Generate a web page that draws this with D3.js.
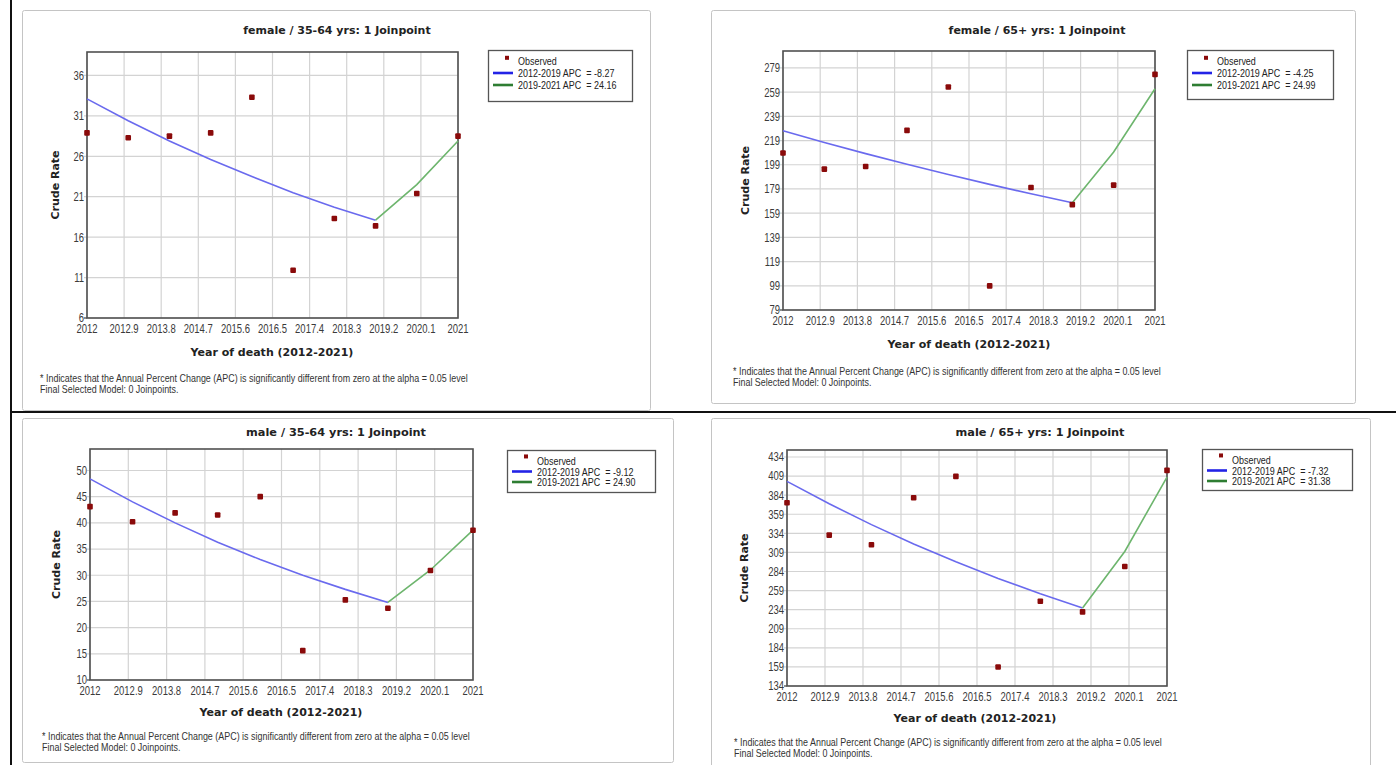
<!DOCTYPE html>
<html>
<head>
<meta charset="utf-8">
<script src="https://cdn.jsdelivr.net/npm/d3@7"></script>
<style>
  body { margin: 0; background: #fff; }
  svg { display: block; }
  .tick-label { font-family: "Liberation Sans", Arial, sans-serif; fill: #3a3a3a; }
  .bold { font-family: "DejaVu Sans", Verdana, sans-serif; font-weight: bold; fill: #222; }
  .foot { font-family: "Liberation Sans", Arial, sans-serif; fill: #333; }
  .legend-text { font-family: "Liberation Sans", Arial, sans-serif; fill: #222; white-space: pre; }
</style>
</head>
<body>
<svg width="1396" height="765"></svg>
<script>
// data
var years = [2012, 2013, 2014, 2015, 2016, 2017, 2018, 2019, 2020, 2021];
var xTickVals = [2012, 2012.9, 2013.8, 2014.7, 2015.6, 2016.5, 2017.4, 2018.3, 2019.2, 2020.1, 2021];
var segment1 = [2012, 2013, 2014, 2015, 2016, 2017, 2018, 2019];
var segment2 = [2019, 2020, 2021];

var titles = ["female / 35-64 yrs: 1 Joinpoint", "female / 65+ yrs: 1 Joinpoint",
              "male / 35-64 yrs: 1 Joinpoint", "male / 65+ yrs: 1 Joinpoint"];

var observedF3564 = [28.9, 28.3, 28.5, 28.9, 33.3, 11.9, 18.3, 17.4, 21.4, 28.5];
var fittedF3564   = [33.1, 30.4, 27.9, 25.6, 23.5, 21.5, 19.7, 18.1, 22.5, 27.9];
var observedF65   = [208.7, 195.4, 197.6, 227.4, 263.3, 98.9, 180.2, 166.1, 182.2, 273.7];
var fittedF65     = [227.1, 217.4, 208.2, 199.4, 190.9, 182.8, 175.0, 167.6, 209.5, 261.8];
var observedM3564 = [43.1, 40.2, 41.9, 41.5, 45.0, 15.6, 25.3, 23.7, 30.9, 38.6];
var fittedM3564   = [48.4, 44.0, 40.0, 36.3, 33.0, 30.0, 27.3, 24.8, 31.0, 38.6];
var observedM65   = [374.0, 331.7, 319.0, 380.6, 408.7, 158.9, 245.1, 231.1, 290.5, 416.5];
var fittedM65     = [402.1, 372.7, 345.4, 320.1, 296.7, 275.0, 254.8, 236.2, 310.3, 407.7];

var yTicksF3564 = [6, 11, 16, 21, 26, 31, 36];
var yTicksF65   = [79, 99, 119, 139, 159, 179, 199, 219, 239, 259, 279];
var yTicksM3564 = [10, 15, 20, 25, 30, 35, 40, 45, 50];
var yTicksM65   = [134, 159, 184, 209, 234, 259, 284, 309, 334, 359, 384, 409, 434];

var yMaxF3564 = 38.9, yMaxF65 = 293, yMaxM3564 = 54.1, yMaxM65 = 443.2;

var legendApc = [["2012-2019 APC  = -8.27", "2019-2021 APC  = 24.16"],
                 ["2012-2019 APC  = -4.25", "2019-2021 APC  = 24.99"],
                 ["2012-2019 APC  = -9.12", "2019-2021 APC  = 24.90"],
                 ["2012-2019 APC  = -7.32", "2019-2021 APC  = 31.38"]];

var footnotes = ["* Indicates that the Annual Percent Change (APC) is significantly different from zero at the alpha = 0.05 level",
                 "Final Selected Model: 0 Joinpoints."];

var svg = d3.select("svg");

// page borders (document table lines)
svg.append("line").attr("x1", 11).attr("x2", 11).attr("y1", 0).attr("y2", 765)
    .attr("stroke", "#111").attr("stroke-width", 2);
svg.append("line").attr("x1", 11).attr("x2", 1396).attr("y1", 412).attr("y2", 412)
    .attr("stroke", "#111").attr("stroke-width", 2);

var panels = [
  { title: titles[0], obs: observedF3564, fit: fittedF3564, yTicks: yTicksF3564, yMax: yMaxF3564, apc: legendApc[0],
    frame: [22, 10, 628, 400], plot: {l: 87, t: 52, r: 458, b: 318}, titlePos: [337, 30], tfs: 11,
    legend: {x: 488, y: 50, w: 144, h: 51, row: 12}, yTitleX: 55, xTitle: [272, 352], foot: [40, 378] },
  { title: titles[1], obs: observedF65, fit: fittedF65, yTicks: yTicksF65, yMax: yMaxF65, apc: legendApc[1],
    frame: [711, 10, 644, 393], plot: {l: 783, t: 51, r: 1155, b: 310}, titlePos: [1037, 30], tfs: 11,
    legend: {x: 1187, y: 50, w: 146, h: 49, row: 12}, yTitleX: 745, xTitle: [969, 344], foot: [733, 371] },
  { title: titles[2], obs: observedM3564, fit: fittedM3564, yTicks: yTicksM3564, yMax: yMaxM3564, apc: legendApc[2],
    frame: [22, 418, 651, 344], plot: {l: 90, t: 449, r: 473, b: 680}, titlePos: [336, 432], tfs: 11.3,
    legend: {x: 507, y: 450, w: 148, h: 42, row: 10.5}, yTitleX: 56, xTitle: [281, 712], foot: [42, 736] },
  { title: titles[3], obs: observedM65, fit: fittedM65, yTicks: yTicksM65, yMax: yMaxM65, apc: legendApc[3],
    frame: [711, 418, 659, 360], plot: {l: 787, t: 450, r: 1167, b: 686}, titlePos: [1040, 432], tfs: 11.3,
    legend: {x: 1202, y: 449, w: 150, h: 41, row: 10.5}, yTitleX: 744, xTitle: [975, 718], foot: [734, 742] }
];

panels.forEach(drawPanel);

// narrow text: the screenshot fonts are horizontally condensed
function narrowText(sel, cls, px, sx, anchor) {
  return sel.append("text").attr("class", cls)
      .attr("transform", function(d) {
        var pos = px(d);
        return "translate(" + pos[0] + "," + pos[1] + ") scale(" + sx + ",1)";
      })
      .attr("dy", "0.35em")
      .attr("text-anchor", anchor);
}

function drawPanel(p) {
  var g = svg.append("g");
  var pl = p.plot;

  // outer frame
  g.append("rect")
      .attr("x", p.frame[0] + 0.5).attr("y", p.frame[1] + 0.5)
      .attr("width", p.frame[2]).attr("height", p.frame[3])
      .attr("rx", 2)
      .attr("fill", "#fff").attr("stroke", "#c4c4c4");

  var x = d3.scaleLinear().domain([2012, 2021]).range([pl.l, pl.r]);
  var y = d3.scaleLinear().domain([p.yTicks[0], p.yMax]).range([pl.b, pl.t]);

  // title
  g.append("text").attr("class", "bold")
      .attr("x", p.titlePos[0]).attr("y", p.titlePos[1])
      .attr("text-anchor", "middle").attr("dy", "0.35em")
      .style("font-size", p.tfs + "px")
      .text(p.title);

  // gridlines
  var grid = g.append("g").attr("stroke", "#d3d3d3").attr("stroke-width", 1.2);
  grid.selectAll(".gx").data(xTickVals).enter().append("line")
      .attr("x1", function(d) { return x(d); }).attr("x2", function(d) { return x(d); })
      .attr("y1", pl.t).attr("y2", pl.b);
  grid.selectAll(".gy").data(p.yTicks).enter().append("line")
      .attr("x1", pl.l - 3).attr("x2", pl.r)
      .attr("y1", function(d) { return y(d); }).attr("y2", function(d) { return y(d); });

  // plot border
  g.append("rect")
      .attr("x", pl.l).attr("y", pl.t)
      .attr("width", pl.r - pl.l).attr("height", pl.b - pl.t)
      .attr("fill", "none").attr("stroke", "#505050").attr("stroke-width", 1.6);
  g.append("line").attr("x1", pl.l - 3).attr("x2", pl.l)
      .attr("y1", pl.b).attr("y2", pl.b).attr("stroke", "#505050").attr("stroke-width", 1.2);

  // tick labels
  narrowText(g.selectAll(".yl").data(p.yTicks).enter(), "tick-label",
      function(d) { return [pl.l - 3, y(d)]; }, 0.76, "end")
      .style("font-size", "12.5px")
      .text(function(d) { return d; });
  narrowText(g.selectAll(".xl").data(xTickVals).enter(), "tick-label",
      function(d) { return [x(d), pl.b + 11]; }, 0.76, "middle")
      .style("font-size", "12.5px")
      .text(function(d) { return d3.format(".5~")(d); });

  // axis titles
  g.append("text").attr("class", "bold")
      .attr("transform", "translate(" + p.yTitleX + "," + ((pl.t + pl.b) / 2) + ") rotate(-90)")
      .attr("text-anchor", "middle").attr("dy", "0.35em")
      .style("font-size", "11px")
      .text("Crude Rate");
  g.append("text").attr("class", "bold")
      .attr("x", p.xTitle[0]).attr("y", p.xTitle[1])
      .attr("text-anchor", "middle").attr("dy", "0.35em")
      .style("font-size", "11px")
      .text("Year of death (2012-2021)");

  // fitted segments
  var line = d3.line()
      .x(function(d) { return x(d.year); })
      .y(function(d) { return y(d.value); });
  var fitData = years.map(function(yr, i) { return {year: yr, value: p.fit[i]}; });
  g.append("path")
      .datum(fitData.filter(function(d) { return segment1.indexOf(d.year) >= 0; }))
      .attr("fill", "none").attr("stroke", "#6a6aee").attr("stroke-width", 1.6)
      .attr("d", line);
  g.append("path")
      .datum(fitData.filter(function(d) { return segment2.indexOf(d.year) >= 0; }))
      .attr("fill", "none").attr("stroke", "#6db56d").attr("stroke-width", 1.6)
      .attr("d", line);

  // observed points
  g.selectAll(".dot").data(p.obs).enter().append("rect")
      .attr("x", function(d, i) { return x(years[i]) - 2.8; })
      .attr("y", function(d) { return y(d) - 2.8; })
      .attr("width", 5.6).attr("height", 5.6).attr("rx", 1)
      .attr("fill", "#8a0a0a");

  // legend
  var lg = p.legend;
  var leg = g.append("g");
  leg.append("rect")
      .attr("x", lg.x + 0.5).attr("y", lg.y + 0.5).attr("width", lg.w).attr("height", lg.h)
      .attr("fill", "#fff").attr("stroke", "#555").attr("stroke-width", 1.3);
  leg.append("rect")
      .attr("x", lg.x + 17).attr("y", lg.y + lg.row * 0.9 - 5)
      .attr("width", 4).attr("height", 4).attr("fill", "#8a0a0a");
  var legRows = [["Observed", null], [p.apc[0], "#2323e6"], [p.apc[1], "#2e7d32"]];
  legRows.forEach(function(r, i) {
    var ry = lg.y + 11 + i * lg.row;
    if (r[1]) {
      leg.append("line")
          .attr("x1", lg.x + 5).attr("x2", lg.x + 25)
          .attr("y1", ry).attr("y2", ry)
          .attr("stroke", r[1]).attr("stroke-width", 2.6);
    }
    narrowText(leg.datum(r), "legend-text", function() { return [lg.x + 30, ry]; }, 0.76, "start")
        .style("font-size", "11.8px")
        .text(r[0]);
  });

  // footnotes
  footnotes.forEach(function(t, i) {
    narrowText(g, "foot", function() { return [p.foot[0], p.foot[1] + i * 11]; }, 0.86, "start")
        .style("font-size", "10.4px")
        .text(t);
  });
}
</script>
</body>
</html>
